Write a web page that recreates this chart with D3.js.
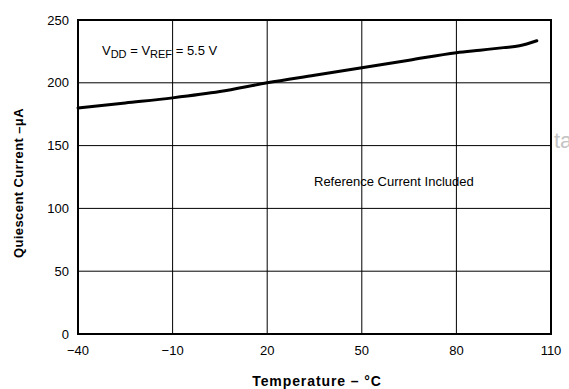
<!DOCTYPE html>
<html>
<head>
<meta charset="utf-8">
<script src="https://cdn.jsdelivr.net/npm/d3@7"></script>
<style>
  body { margin: 0; background: #fff; }
  svg { font-family: "Liberation Sans", Arial, sans-serif; }
</style>
</head>
<body>
<div id="chart"></div>
<script>
  // data
  const temps = [-40, -25, -10, 5, 20, 35, 50, 65, 80, 87.5, 95, 100, 105.5];
  const current = [180, 184, 188, 193, 200, 206, 212, 218, 224, 226, 228, 229.5, 233.5];
  const xTicks = [-40, -10, 20, 50, 80, 110];
  const yTicks = [0, 50, 100, 150, 200, 250];

  const width = 569, height = 389;
  const m = { left: 78, right: 18, top: 20, bottom: 55 };

  const svg = d3.select("#chart").append("svg")
    .attr("width", width)
    .attr("height", height);

  const x = d3.scaleLinear().domain([-40, 110]).range([m.left, width - m.right]);
  const y = d3.scaleLinear().domain([0, 250]).range([height - m.bottom, m.top]);

  // grid
  svg.append("g")
    .selectAll("line.vx")
    .data(xTicks.slice(1, -1))
    .enter().append("line")
    .attr("x1", d => x(d)).attr("x2", d => x(d))
    .attr("y1", y(0)).attr("y2", y(250))
    .attr("stroke", "#000").attr("stroke-width", 1);

  svg.append("g")
    .selectAll("line.hy")
    .data(yTicks.slice(1, -1))
    .enter().append("line")
    .attr("x1", x(-40)).attr("x2", x(110))
    .attr("y1", d => y(d)).attr("y2", d => y(d))
    .attr("stroke", "#000").attr("stroke-width", 1);

  // frame
  svg.append("rect")
    .attr("x", x(-40)).attr("y", y(250))
    .attr("width", x(110) - x(-40)).attr("height", y(0) - y(250))
    .attr("fill", "none").attr("stroke", "#000").attr("stroke-width", 2);

  // tick labels
  svg.append("g")
    .selectAll("text")
    .data(xTicks)
    .enter().append("text")
    .attr("x", d => x(d))
    .attr("y", y(0) + 21)
    .attr("text-anchor", "middle")
    .style("font-size", "13px")
    .text(d => d < 0 ? "\u2212" + Math.abs(d) : d);

  svg.append("g")
    .selectAll("text")
    .data(yTicks)
    .enter().append("text")
    .attr("x", x(-40) - 9)
    .attr("y", d => y(d))
    .attr("dy", "0.35em")
    .attr("text-anchor", "end")
    .style("font-size", "13px")
    .text(d => d);

  // curve
  const line = d3.line()
    .x((d, i) => x(temps[i]))
    .y(d => y(d))
    .curve(d3.curveMonotoneX);

  svg.append("path")
    .datum(current)
    .attr("fill", "none")
    .attr("stroke", "#000")
    .attr("stroke-width", 3)
    .attr("stroke-linecap", "round")
    .attr("d", line);

  // annotations
  const note = svg.append("text")
    .attr("x", 102).attr("y", 55)
    .style("font-size", "13px");
  note.append("tspan").text("V");
  note.append("tspan").attr("dy", 3).style("font-size", "11px").text("DD");
  note.append("tspan").attr("dy", -3).text(" = V");
  note.append("tspan").attr("dy", 3).style("font-size", "11px").text("REF");
  note.append("tspan").attr("dy", -3).text(" = 5.5 V");

  svg.append("text")
    .attr("x", 314).attr("y", 186)
    .style("font-size", "13px")
    .text("Reference Current Included");

  // watermark fragment, cut by the page edge as in the source
  svg.append("text")
    .attr("x", 554).attr("y", 148)
    .style("font-size", "22px")
    .style("fill", "#c4c4c4")
    .text("ta");

  // axis titles
  svg.append("text")
    .attr("x", 317)
    .attr("y", 386)
    .attr("text-anchor", "middle")
    .style("font-size", "14px")
    .style("letter-spacing", "0.9px")
    .style("font-weight", "bold")
    .text("Temperature \u2013 \u00B0C");

  svg.append("text")
    .attr("transform", "translate(23, 183) rotate(-90)")
    .attr("text-anchor", "middle")
    .style("font-size", "13px")
    .style("letter-spacing", "0.4px")
    .style("font-weight", "bold")
    .text("Quiescent Current \u2013\u03BCA");
</script>
</body>
</html>
